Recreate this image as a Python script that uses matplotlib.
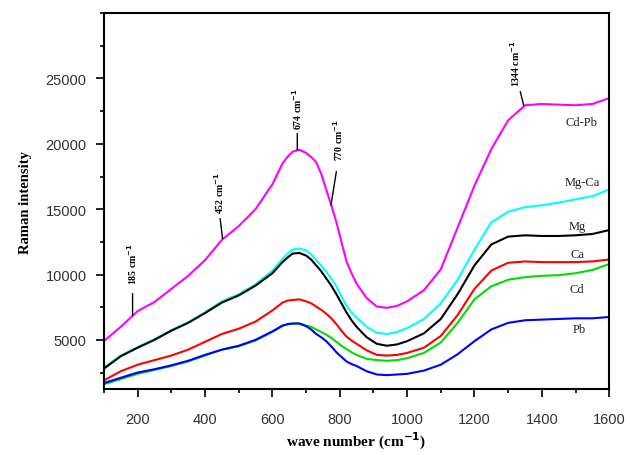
import numpy as np
import matplotlib
matplotlib.use("Agg")
import matplotlib.pyplot as plt
from matplotlib.ticker import MultipleLocator

# wavenumber grid (cm^-1)
wn = [100, 150, 200, 250, 300, 350, 400, 450, 500, 550, 600, 630, 645, 660, 680, 700,
      715, 730, 745, 760, 775, 790, 805, 820, 835, 850, 880, 910, 940, 970, 1000,
      1050, 1100, 1150, 1200, 1250, 1300, 1350, 1400, 1450, 1500, 1550, 1600]

cd_pb = [4900, 6000, 7200, 7900, 8900, 9900, 11100, 12650, 13700, 15000, 16900, 18500,
         19000, 19400, 19550, 19300, 19000, 18600, 17700, 16500, 15300, 14000, 12500,
         11000, 10100, 9300, 8200, 7550, 7450, 7600, 7950, 8800, 10400, 13600, 16800,
         19600, 21800, 22950, 23050, 23000, 22950, 23050, 23500]
mg_ca = [2900, 3800, 4450, 5050, 5750, 6350, 7100, 7950, 8500, 9250, 10300, 11200,
         11600, 11900, 12000, 11850, 11550, 11100, 10700, 10200, 9700, 9100, 8350,
         7600, 7100, 6700, 6000, 5550, 5450, 5600, 5900, 6600, 7800, 9600, 11900,
         14000, 14800, 15150, 15300, 15500, 15750, 16000, 16500]
mg = [2800, 3750, 4400, 5000, 5700, 6300, 7050, 7850, 8400, 9150, 10100, 10950,
      11300, 11600, 11650, 11450, 11150, 10700, 10250, 9700, 9150, 8500, 7800,
      7100, 6500, 6000, 5200, 4700, 4550, 4650, 4900, 5500, 6600, 8500, 10700,
      12300, 12900, 13000, 12950, 12950, 13000, 13100, 13400]
ca = [1900, 2600, 3100, 3450, 3800, 4250, 4850, 5450, 5850, 6400, 7250, 7850,
      8000, 8050, 8100, 7950, 7800, 7550, 7300, 7000, 6650, 6200, 5700,
      5250, 4950, 4700, 4200, 3850, 3800, 3850, 4000, 4400, 5300, 6900, 8900,
      10300, 10900, 11000, 10950, 10950, 10950, 11000, 11150]
cd = [1600, 2000, 2400, 2700, 3000, 3350, 3800, 4250, 4500, 4950, 5600, 6050,
      6200, 6250, 6250, 6100, 6000, 5800, 5600, 5400, 5150, 4850, 4550,
      4300, 4050, 3850, 3550, 3450, 3400, 3450, 3600, 4000, 4800, 6300, 8100,
      9100, 9600, 9800, 9900, 9950, 10100, 10350, 10800]
pb = [1700, 2100, 2500, 2750, 3050, 3400, 3850, 4250, 4550, 5000, 5650, 6100,
      6200, 6250, 6250, 6050, 5800, 5450, 5200, 4900, 4500, 4050, 3700,
      3350, 3150, 3000, 2600, 2350, 2300, 2350, 2400, 2650, 3100, 3900, 4900,
      5800, 6300, 6500, 6550, 6600, 6650, 6650, 6750]

series = [("Cd-Pb", cd_pb, "#ff00ff"), ("Mg-Ca", mg_ca, "#00ffff"),
          ("Mg", mg, "#000000"), ("Ca", ca, "#ff0000"),
          ("Cd", cd, "#00dd00"), ("Pb", pb, "#0000ff")]

# curve name labels (x, y in data units)
lab_x = [1519, 1519, 1505, 1505, 1505, 1510]
lab_y = [21700, 17100, 13750, 11600, 8900, 5850]

# peak annotations: label, point on curve, top of leader, text start
peaks = ["185", "452", "674", "770", "1344"]
pk_xy = [(185, 6880), (452, 12750), (674, 19510), (774, 15300), (1346, 22960)]
pk_top = [(185, 8540), (445, 14280), (674, 20790), (790, 17880), (1336, 24000)]
pk_txt = [(185, 9300), (443, 14700), (674, 21100), (795, 18800), (1320, 24400)]

fig = plt.figure(figsize=(6.3, 4.56), dpi=100)
ax = fig.add_axes([0.165, 0.145, 0.802, 0.824])

for name, y, c in series:
    ax.plot(wn, y, color=c, lw=1.5)

for (name, y, c), lx, ly in zip(series, lab_x, lab_y):
    ax.text(lx, ly, name, family="Liberation Serif", fontsize=9, ha="center", va="center",
            color="#222222")

for p, xy, top, tx in zip(peaks, pk_xy, pk_top, pk_txt):
    ax.annotate("", xy=xy, xytext=top,
                arrowprops=dict(arrowstyle="-", color="black", lw=1.0, shrinkA=0, shrinkB=0))
    ax.text(tx[0], tx[1], p + r" cm$^{\mathbf{-1}}$", rotation=90, ha="center", va="bottom",
            family="Liberation Serif", fontweight="bold", fontsize=7)

ax.set_xlim(100, 1600)
ax.set_ylim(1250, 30000)
ax.xaxis.set_minor_locator(MultipleLocator(100))
ax.yaxis.set_minor_locator(MultipleLocator(2500))
ax.set_xticks(np.arange(200, 1601, 200))
ax.set_yticks(np.arange(5000, 25001, 5000))
ax.tick_params(which="both", direction="out", top=False, right=False, width=1.2)
ax.tick_params(which="major", length=5.5, labelsize=10.5, labelcolor="#333333")
ax.tick_params(axis="y", which="major", pad=7)
ax.tick_params(axis="x", which="major", pad=11)
ax.tick_params(which="minor", length=3.2)
for t in ax.get_xticklabels() + ax.get_yticklabels():
    t.set_family("Liberation Sans")
for s in ax.spines.values():
    s.set_linewidth(1.5)

ax.set_ylabel("Raman intensity", family="Liberation Serif", fontweight="bold", fontsize=10.5,
              labelpad=10)
ax.set_xlabel(r"wave number (cm$^{\mathbf{-1}}$)", family="Liberation Serif",
              fontweight="bold", fontsize=11, labelpad=3)

fig.savefig("out.png", dpi=100, facecolor="white")
